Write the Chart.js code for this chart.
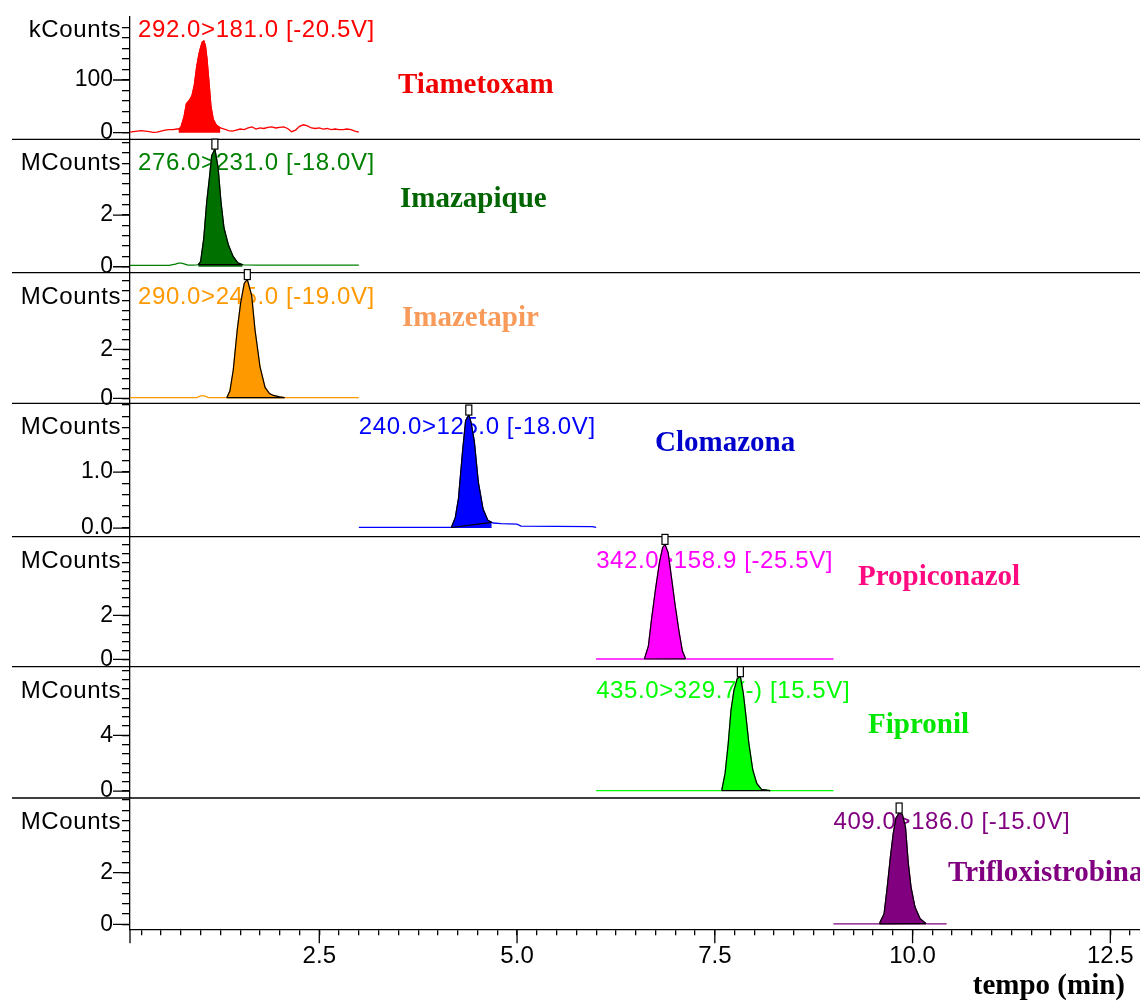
<!DOCTYPE html>
<html>
<head>
<meta charset="utf-8">
<title>Cromatogramas MRM</title>
<script src="https://cdn.jsdelivr.net/npm/chart.js@4.4.1/dist/chart.umd.min.js"></script>
<style>
  html, body { margin: 0; padding: 0; background: #fff; }
  canvas { display: block; }
</style>
</head>
<body>
<canvas id="chrom" width="1140" height="1003"></canvas>
<script>
// Compostos, transições MRM e unidades de cada painel
const compostos = ['Tiametoxam', 'Imazapique', 'Imazetapir', 'Clomazona', 'Propiconazol', 'Fipronil', 'Trifloxistrobina'];
const transicoes = ['292.0>181.0 [-20.5V]', '276.0>231.0 [-18.0V]', '290.0>245.0 [-19.0V]', '240.0>125.0 [-18.0V]',
  '342.0>158.9 [-25.5V]', '435.0>329.7(-) [15.5V]', '409.0>186.0 [-15.0V]'];
const unidades = ['kCounts', 'MCounts', 'MCounts', 'MCounts', 'MCounts', 'MCounts', 'MCounts'];

// Linha de base (tempo em min, sinal na unidade do painel)
const tempoTia = [0, 0.1, 0.15, 0.2, 0.25, 0.3, 0.35, 0.4, 0.45, 0.5, 0.55, 0.6, 0.65, 0.7,
  1.3, 1.35, 1.4, 1.45, 1.5, 1.55, 1.6, 1.65, 1.7, 1.75, 1.8, 1.85, 1.9, 1.95, 2.0, 2.05, 2.1, 2.15,
  2.2, 2.25, 2.3, 2.35, 2.4, 2.45, 2.5, 2.55, 2.6, 2.65, 2.7, 2.75, 2.8, 2.85, 2.9, 2.95, 3.0];
const sinalTia = [1, 1, 2, 3, 4, 3, 2, 0.5, 1, 3, 5, 6, 6, 7,
  7, 4, 3, 5, 7, 6, 9, 11, 7, 9, 8, 10, 11, 9, 10, 11, 8, 2,
  5, 12, 15, 13, 9, 8, 9, 7, 8, 6, 7, 6, 6, 7, 6, 3, 1];
const tempoImq = [0, 0.3, 0.6, 0.68, 0.72, 0.76, 0.8, 0.84, 0.9, 0.95, 1.55, 1.7, 2.0, 2.3, 2.6, 3.0];
const sinalImq = [0.05, 0.05, 0.05, 0.1, 0.14, 0.14, 0.1, 0.06, 0.06, 0.07, 0.07, 0.06, 0.06, 0.06, 0.06, 0.06];
const tempoImt = [0, 0.4, 0.8, 0.95, 1.0, 1.05, 1.1, 1.3, 2.1, 2.4, 2.7, 3.0];
const sinalImt = [0.03, 0.03, 0.03, 0.03, 0.1, 0.1, 0.03, 0.03, 0.03, 0.03, 0.03, 0.03];
const tempoClo = [3.0, 3.5, 4.0, 4.15, 4.7, 4.8, 5.0, 5.05, 5.5, 5.95, 6.0];
const sinalClo = [0.01, 0.01, 0.01, 0.01, 0.09, 0.08, 0.07, 0.035, 0.03, 0.025, 0.01];
const tempoPro = [6.0, 6.3, 6.6, 7.15, 7.3, 7.6, 8.0, 8.5, 9.0];
const sinalPro = [0.02, 0.02, 0.02, 0.02, 0.02, 0.02, 0.02, 0.02, 0.02];
const tempoFip = [6.0, 6.5, 7.0, 7.5, 8.25, 8.5, 9.0];
const sinalFip = [0.03, 0.03, 0.03, 0.03, 0.03, 0.03, 0.03];
const tempoTri = [9.0, 9.3, 9.55, 10.2, 10.43];
const sinalTri = [0.02, 0.02, 0.02, 0.02, 0.02];

// Picos
const tempoPicoTia = [0.72, 0.75, 0.79, 0.82, 0.86, 0.89, 0.92, 0.95, 0.98, 1.0, 1.02, 1.04, 1.06, 1.08, 1.1, 1.13, 1.16, 1.2, 1.25];
const sinalPicoTia = [7, 10, 30, 55, 62, 70, 90, 125, 150, 162, 172, 174, 165, 140, 105, 50, 25, 14, 9];
const tempoPicoImq = [0.97, 1.0, 1.04, 1.077, 1.11, 1.14, 1.18, 1.22, 1.257, 1.295, 1.35, 1.41, 1.47, 1.53];
const sinalPicoImq = [0.08, 0.2, 1.1, 2.5, 3.4, 4.3, 4.55, 3.85, 2.5, 1.5, 0.85, 0.4, 0.15, 0.08];
const tempoPicoImt = [1.33, 1.37, 1.413, 1.463, 1.506, 1.552, 1.59, 1.645, 1.687, 1.75, 1.814, 1.87, 1.92, 2.0, 2.06];
const sinalPicoImt = [0.03, 0.3, 1.17, 2.8, 3.9, 4.7, 4.85, 4.2, 2.8, 1.3, 0.45, 0.2, 0.12, 0.06, 0.03];
const tempoPicoClo = [4.17, 4.22, 4.26, 4.31, 4.35, 4.39, 4.42, 4.46, 4.51, 4.57, 4.63, 4.68];
const sinalPicoClo = [0.01, 0.19, 0.53, 1.35, 1.92, 2.02, 1.88, 1.54, 0.82, 0.34, 0.14, 0.1];
const tempoPicoPro = [6.61, 6.66, 6.7, 6.75, 6.8, 6.84, 6.87, 6.91, 6.955, 7.0, 7.05, 7.09, 7.13];
const sinalPicoPro = [0.02, 0.6, 1.82, 3.18, 4.4, 5.08, 5.23, 4.85, 3.64, 2.42, 1.21, 0.38, 0.03];
const tempoPicoFip = [7.587, 7.63, 7.67, 7.705, 7.743, 7.785, 7.823, 7.86, 7.894, 7.93, 7.98, 8.03, 8.09, 8.2];
const sinalPicoFip = [0.03, 1.27, 3.43, 5.83, 7.27, 8.1, 8.22, 7.03, 5.35, 3.43, 1.51, 0.55, 0.12, 0.03];
const tempoPicoTri = [9.58, 9.64, 9.68, 9.72, 9.755, 9.79, 9.83, 9.87, 9.91, 9.946, 9.98, 10.03, 10.095, 10.17];
const sinalPicoTri = [0.02, 0.41, 1.44, 2.6, 3.5, 4.1, 4.3, 4.25, 3.76, 2.35, 1.44, 0.67, 0.22, 0.03];

const temposBase = [tempoTia, tempoImq, tempoImt, tempoClo, tempoPro, tempoFip, tempoTri];
const sinaisBase = [sinalTia, sinalImq, sinalImt, sinalClo, sinalPro, sinalFip, sinalTri];
const temposPico = [tempoPicoTia, tempoPicoImq, tempoPicoImt, tempoPicoClo, tempoPicoPro, tempoPicoFip, tempoPicoTri];
const sinaisPico = [sinalPicoTia, sinalPicoImq, sinalPicoImt, sinalPicoClo, sinalPicoPro, sinalPicoFip, sinalPicoTri];
const integrado = [false, true, true, true, true, true, true];

// Eixos Y de cada painel
const yMin = [-12.5, -0.23, -0.2, -0.155, -0.33, -0.5, -0.19];
const yMax = [219.5, 4.93, 5.13, 2.23, 5.58, 8.94, 4.88];
const passoMenor = [20, 0.4, 0.4, 0.2, 0.4, 4 / 6, 0.4];
const rotulosY = [[0, 100], [0, 2], [0, 2], [0, 1], [0, 2], [0, 4], [0, 2]];
const casasY = [0, 0, 0, 1, 0, 0, 0];
const alturaPainel = [122.3, 133.4, 130.6, 133.4, 130, 131.3, 131.3];

// Eixo do tempo
const tempoMin = 0.107;
const tempoMax = 12.875;
const passoTempo = 0.25;
const rotulosTempo = [2.5, 5, 7.5, 10, 12.5];

// Cores
const corLinha = ['#ff0000', '#008000', '#ff9900', '#0000ff', '#ff00ff', '#00ff00', '#800080'];
const corPico = ['#ff0000', '#007000', '#ff9900', '#0000ff', '#ff00ff', '#00ff00', '#800080'];
const corNome = ['#f00000', '#006400', '#f89a5a', '#0000cc', '#ff0a80', '#00e600', '#800080'];
// posição dos nomes: x em px e linha de base a partir do topo do painel
const posNome = [[398, 75.5], [400, 68], [402, 53], [655, 48], [858, 48], [868, 66], [948, 83.4]];

const fonteSans = '"Liberation Sans", Arial, sans-serif';
const fonteSerif = '"Liberation Serif", "Times New Roman", serif';

function juntar(tBase, sBase, tPico, sPico) {
  const ini = tPico[0], fim = tPico[tPico.length - 1];
  const pts = [];
  tBase.forEach((t, k) => { if (t < ini || t > fim) pts.push({ x: t, y: sBase[k] }); });
  tPico.forEach((t, k) => pts.push({ x: t, y: sPico[k] }));
  return pts.sort((a, b) => a.x - b.x);
}

function ticksPainel(i) {
  const v = [];
  for (let k = 0; k * passoMenor[i] <= yMax[i] + 1e-9; k++) v.push(+(k * passoMenor[i]).toFixed(4));
  return v;
}

function ticksTempo() {
  const v = [];
  for (let t = passoTempo; t <= tempoMax; t += passoTempo) v.push(+t.toFixed(2));
  return v;
}

const datasets = [];
const scales = {
  x: {
    type: 'linear', position: 'bottom', min: tempoMin, max: tempoMax,
    afterBuildTicks: s => { s.ticks = ticksTempo().map(v => ({ value: v })); },
    afterFit: s => { s.height = 73.7; s.paddingLeft = 0; s.paddingRight = 0; },
    grid: { drawOnChartArea: false, drawTicks: true, tickLength: 6, color: '#000', lineWidth: 1.3 },
    border: { display: true, color: '#000', width: 1.3 },
    ticks: {
      autoSkip: false, maxRotation: 0, padding: 7, color: '#000',
      font: { family: fonteSans, size: 24 },
      callback: v => rotulosTempo.some(r => Math.abs(r - v) < 1e-6) ? v.toFixed(1) : ''
    }
  }
};

compostos.forEach((nome, i) => {
  const eixo = 'p' + i;
  scales[eixo] = {
    type: 'linear', axis: 'y', position: 'left', stack: 'paineis',
    stackWeight: alturaPainel[i], weight: compostos.length - i,
    min: yMin[i], max: yMax[i],
    afterBuildTicks: s => { s.ticks = ticksPainel(i).map(v => ({ value: v })); },
    afterFit: s => { s.width = 130; s.paddingTop = 0; s.paddingBottom = 0; },
    grid: { drawOnChartArea: false, drawTicks: true, tickLength: 8, color: '#000', lineWidth: 1.3 },
    border: { display: true, color: '#000', width: 1.3 },
    ticks: {
      autoSkip: false, padding: 9, color: '#000',
      font: { family: fonteSans, size: 23 },
      callback: v => rotulosY[i].some(r => Math.abs(r - v) < 1e-6) ? v.toFixed(casasY[i]) : ''
    }
  };

  const tp = temposPico[i], sp = sinaisPico[i];
  datasets.push({
    label: nome, yAxisID: eixo, order: 3,
    data: juntar(temposBase[i], sinaisBase[i], tp, sp),
    borderColor: corLinha[i], borderWidth: 1.3, fill: false
  });
  datasets.push({
    label: nome + ' (pico)', yAxisID: eixo, order: 2,
    data: tp.map((t, k) => ({ x: t, y: sp[k] })),
    borderColor: integrado[i] ? '#000' : corLinha[i], borderWidth: 1.2,
    backgroundColor: corPico[i], fill: 'origin'
  });
  if (integrado[i]) {
    // linha de base da integração
    datasets.push({
      label: nome + ' (base)', yAxisID: eixo, order: 1,
      data: [{ x: tp[0], y: sp[0] }, { x: tp[tp.length - 1], y: sp[sp.length - 1] }],
      borderColor: '#000', borderWidth: 1.2, fill: false
    });
  }
});

const decoracao = {
  id: 'decoracao',
  beforeDatasetsDraw(chart) {
    const { ctx, chartArea, scales: sc } = chart;
    ctx.save();
    ctx.textBaseline = 'alphabetic';
    compostos.forEach((nome, i) => {
      const topo = sc['p' + i].top;
      const linha = topo + (i === 0 ? 20 : 31);
      ctx.font = '24px ' + fonteSans;
      ctx.letterSpacing = '0.6px';
      ctx.fillStyle = corLinha[i];
      ctx.textAlign = 'left';
      const xi = Math.max(sc.x.getPixelForValue(temposBase[i][0]), chartArea.left + 8);
      ctx.fillText(transicoes[i], xi, linha);
      ctx.fillStyle = '#000';
      ctx.textAlign = 'right';
      ctx.fillText(unidades[i], 121, linha);
      ctx.letterSpacing = '0px';
      ctx.font = 'bold 29px ' + fonteSerif;
      ctx.fillStyle = corNome[i];
      ctx.textAlign = 'left';
      ctx.fillText(nome, posNome[i][0], topo + posNome[i][1]);
    });
    ctx.restore();
  },
  afterDraw(chart) {
    const { ctx, chartArea, scales: sc } = chart;
    const x = sc.x;
    ctx.save();
    ctx.strokeStyle = '#000';
    ctx.lineWidth = 1.3;
    ctx.beginPath();
    compostos.forEach((nome, i) => {
      const y = sc['p' + i];
      // separador entre painéis
      if (i < compostos.length - 1) {
        ctx.moveTo(12, y.bottom);
        ctx.lineTo(chartArea.right, y.bottom);
      }
      // traços maiores nos valores rotulados
      rotulosY[i].forEach(v => {
        const py = y.getPixelForValue(v);
        ctx.moveTo(chartArea.left - 17, py);
        ctx.lineTo(chartArea.left, py);
      });
    });
    rotulosTempo.forEach(t => {
      const px = x.getPixelForValue(t);
      ctx.moveTo(px, chartArea.bottom);
      ctx.lineTo(px, chartArea.bottom + 14);
    });
    ctx.moveTo(chartArea.left, chartArea.bottom);
    ctx.lineTo(chartArea.left, chartArea.bottom + 14);
    ctx.stroke();

    // marcador do ápice dos picos integrados
    ctx.lineWidth = 1.2;
    ctx.fillStyle = '#fff';
    compostos.forEach((nome, i) => {
      if (!integrado[i]) return;
      const sp = sinaisPico[i];
      const k = sp.indexOf(Math.max(...sp));
      const px = x.getPixelForValue(temposPico[i][k]);
      const py = sc['p' + i].getPixelForValue(sp[k]);
      ctx.fillRect(px - 3, py - 10, 6, 10);
      ctx.strokeRect(px - 3, py - 10, 6, 10);
    });

    ctx.font = 'bold 29px ' + fonteSerif;
    ctx.fillStyle = '#000';
    ctx.textAlign = 'right';
    ctx.textBaseline = 'alphabetic';
    ctx.fillText('tempo (min)', 1125, 994);
    ctx.restore();
  }
};

new Chart(document.getElementById('chrom'), {
  type: 'line',
  data: { datasets },
  options: {
    responsive: false,
    animation: false,
    devicePixelRatio: 1,
    layout: { padding: { top: 17, left: 0, right: 0, bottom: 0 } },
    plugins: { legend: { display: false }, tooltip: { enabled: false } },
    elements: { point: { radius: 0 }, line: { tension: 0 } },
    scales
  },
  plugins: [decoracao]
});
</script>
</body>
</html>
